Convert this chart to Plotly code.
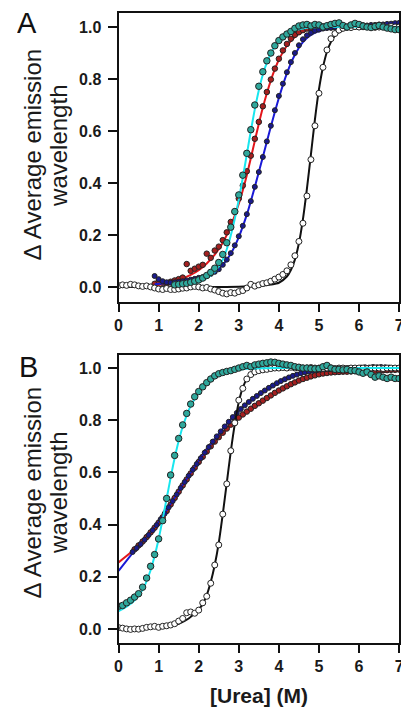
import plotly.graph_objects as go

# ---------------- Panel A data ----------------
A_white_x = [0.0, 0.1, 0.2, 0.3, 0.4, 0.5, 0.6, 0.7, 0.8, 0.9,
             1.0, 1.1, 1.2, 1.3, 1.4, 1.5, 1.6, 1.7, 1.8, 1.9,
             2.0, 2.1, 2.2, 2.3, 2.4, 2.5, 2.6, 2.7, 2.8, 2.9,
             3.0, 3.1, 3.2, 3.3, 3.4, 3.5, 3.6, 3.7, 3.8, 3.9,
             4.0, 4.1, 4.2, 4.3, 4.4, 4.5, 4.6, 4.7, 4.8, 4.9,
             5.0, 5.1, 5.2, 5.3, 5.4, 5.5, 5.6, 5.7, 5.8, 5.9,
             6.0, 6.1, 6.2, 6.3, 6.4, 6.5, 6.6, 6.7, 6.8, 6.9, 7.0]
A_white_y = [0.005, 0.008, 0.006, 0.01, 0.008, 0.004, 0.002, 0.004, 0.0, -0.004,
             -0.008, -0.01, -0.006, -0.01, -0.01, -0.008, -0.005, -0.004, 0.0, 0.002,
             0.0, -0.004, -0.002, -0.008, -0.012, -0.018, -0.024, -0.027, -0.022, -0.024,
             -0.018, -0.014, -0.004, 0.01, 0.003, 0.008, 0.013, 0.016, 0.022, 0.03,
             0.038, 0.048, 0.062, 0.085, 0.12, 0.175, 0.245, 0.35, 0.49, 0.62,
             0.745, 0.845, 0.912, 0.955, 0.975, 0.988, 0.995, 1.0, 0.998, 1.002,
             1.0, 1.005, 1.002, 1.0, 1.005, 1.0, 1.004, 0.998, 1.002, 1.0, 1.0]
A_black_fit_x = [0, 1, 2, 3, 3.5, 3.8, 4.0, 4.2, 4.3, 4.4, 4.5, 4.6, 4.7, 4.8, 4.9,
                 5.0, 5.1, 5.2, 5.3, 5.4, 5.5, 5.7, 6.0, 7.0]
A_black_fit_y = [0, 0, 0, 0.001, 0.004, 0.009, 0.016, 0.04, 0.065, 0.105, 0.168, 0.26,
                 0.378, 0.51, 0.645, 0.76, 0.845, 0.905, 0.943, 0.967, 0.98, 0.993, 0.998, 1.0]

A_teal_x = [1.4, 1.5, 1.6, 1.7, 1.8, 1.9,
            2.0, 2.1, 2.2, 2.3, 2.4, 2.5, 2.6, 2.7, 2.8, 2.9,
            3.0, 3.1, 3.2, 3.3, 3.4, 3.5, 3.6, 3.7, 3.8, 3.9,
            4.0, 4.1, 4.2, 4.3, 4.4, 4.5, 4.6, 4.7, 4.8, 4.9,
            5.0, 5.1, 5.2, 5.3, 5.4, 5.5, 5.6, 5.7, 5.8, 5.9,
            6.0, 6.1, 6.2, 6.3, 6.4, 6.5, 6.6, 6.7, 6.8, 6.9, 7.0]
A_teal_y = [0.008, 0.01, 0.012, 0.014, 0.018, 0.022,
            0.027, 0.034, 0.044, 0.056, 0.072, 0.094, 0.125, 0.17, 0.23, 0.29,
            0.354, 0.43, 0.514, 0.605, 0.7, 0.772, 0.828, 0.87, 0.9, 0.928,
            0.948, 0.962, 0.973, 0.983, 0.995, 1.004, 1.008, 1.01, 1.004, 1.01,
            1.008, 1.0, 1.005, 1.01, 1.014, 1.016, 1.006, 1.0, 1.008, 1.014,
            1.01, 1.004, 1.0, 0.998, 1.002, 1.006, 1.0, 0.996, 0.993, 0.99, 0.99]
A_cyan_fit_x = [1.35, 1.6, 1.8, 2.0, 2.2, 2.4, 2.6, 2.7, 2.8, 2.9, 3.0, 3.1, 3.2, 3.3,
                3.4, 3.5, 3.6, 3.7, 3.8, 3.9, 4.0, 4.2, 4.4, 4.7, 5.0, 7.0]
A_cyan_fit_y = [0.004, 0.008, 0.012, 0.02, 0.034, 0.058, 0.105, 0.145, 0.198, 0.262, 0.336,
                0.42, 0.51, 0.6, 0.684, 0.757, 0.817, 0.863, 0.898, 0.926, 0.946, 0.972,
                0.987, 0.997, 1.0, 1.0]

A_red_x = [0.9,
           1.0, 1.1, 1.2, 1.3, 1.4, 1.5, 1.6, 1.7, 1.8, 1.9,
           2.0, 2.1, 2.2, 2.3, 2.4, 2.5, 2.6, 2.7, 2.8, 2.9,
           3.0, 3.1, 3.2, 3.3, 3.4, 3.5, 3.6, 3.7, 3.8, 3.9,
           4.0, 4.1, 4.2, 4.3, 4.4, 4.5, 4.6, 4.7, 4.8, 4.9,
           5.0, 5.1, 5.2, 5.3, 5.4, 5.5, 5.6, 5.7, 5.8, 5.9,
           6.0, 6.1, 6.2, 6.3, 6.4, 6.5, 6.6, 6.7, 6.8, 6.9, 7.0]
A_red_y = [0.012,
           0.022, 0.016, 0.012, 0.02, 0.025, 0.03, 0.036, 0.088, 0.062, 0.07,
           0.078, 0.085, 0.128, 0.112, 0.14, 0.155, 0.18, 0.21, 0.25, 0.29,
           0.34, 0.39, 0.445, 0.505, 0.57, 0.635, 0.695, 0.75, 0.798, 0.84,
           0.878, 0.91, 0.935, 0.955, 0.97, 0.98, 0.988, 0.994, 0.997, 1.0,
           1.0, 1.002, 1.0, 0.998, 1.0, 1.003, 1.0, 0.998, 1.0, 1.002,
           1.0, 1.0, 1.003, 1.0, 0.998, 1.0, 1.002, 1.0, 1.0, 0.998, 1.0]
A_red_fit_x = [0.9, 1.2, 1.5, 1.8, 2.0, 2.2, 2.4, 2.6, 2.8, 3.0, 3.1, 3.2, 3.3, 3.4, 3.5,
               3.6, 3.7, 3.8, 3.9, 4.0, 4.2, 4.4, 4.6, 4.8, 5.0, 7.0]
A_red_fit_y = [0.005, 0.013, 0.026, 0.046, 0.064, 0.09, 0.124, 0.17, 0.235, 0.32, 0.372,
               0.43, 0.495, 0.562, 0.628, 0.69, 0.745, 0.795, 0.838, 0.874, 0.928, 0.962,
               0.982, 0.993, 0.998, 1.0]

A_blue_x = A_red_x
A_blue_y = [0.042,
            0.03, 0.022, 0.018, 0.016, 0.018, 0.02, 0.022, 0.025, 0.028, 0.031,
            0.035, 0.038, 0.043, 0.05, 0.058, 0.068, 0.085, 0.105, 0.13, 0.16,
            0.195, 0.235, 0.28, 0.33, 0.385, 0.442, 0.5, 0.56, 0.62, 0.68,
            0.735, 0.782, 0.826, 0.865, 0.9, 0.93, 0.953, 0.968, 0.978, 0.986,
            0.99, 0.994, 0.996, 0.998, 1.0, 1.0, 1.002, 1.0, 1.003, 1.004,
            1.005, 1.006, 1.006, 1.008, 1.008, 1.01, 1.01, 1.012, 1.013, 1.015, 1.016]
A_blue_fit_x = [0.9, 1.2, 1.5, 1.8, 2.0, 2.2, 2.4, 2.6, 2.8, 3.0, 3.2, 3.4, 3.6, 3.8, 4.0,
                4.2, 4.4, 4.6, 4.8, 5.0, 5.3, 6.0, 7.0]
A_blue_fit_y = [0.01, 0.015, 0.02, 0.027, 0.033, 0.043, 0.058, 0.085, 0.128, 0.192, 0.278,
                0.385, 0.5, 0.617, 0.727, 0.822, 0.893, 0.942, 0.97, 0.985, 0.995, 1.002, 1.008]

# ---------------- Panel B data ----------------
B_white_x = A_white_x
B_white_y = [0.005, 0.003, 0.0, -0.002, 0.0, -0.001, 0.002, 0.006, 0.008, 0.01,
             0.006, 0.01, 0.012, 0.015, 0.02, 0.03, 0.04, 0.062, 0.065, 0.06,
             0.072, 0.1, 0.125, 0.175, 0.245, 0.322, 0.44, 0.556, 0.683, 0.79,
             0.877, 0.922, 0.958, 0.975, 0.985, 0.99, 0.993, 0.995, 0.998, 1.0,
             1.0, 1.002, 1.0, 1.003, 1.0, 1.002, 1.0, 1.0, 1.002, 1.0,
             1.0, 0.998, 1.0, 1.0, 0.998, 1.0, 1.0, 0.998, 1.0, 1.0,
             1.0, 1.0, 0.998, 1.0, 1.0, 1.0, 0.998, 1.0, 1.0, 1.0, 1.0]
B_black_fit_x = [0, 0.5, 1.0, 1.25, 1.5, 1.75, 2.0, 2.1, 2.2, 2.3, 2.4, 2.5, 2.6, 2.7,
                 2.8, 2.9, 3.0, 3.1, 3.2, 3.3, 3.4, 3.6, 4.0, 7.0]
B_black_fit_y = [0.0, 0.001, 0.005, 0.01, 0.02, 0.04, 0.075, 0.095, 0.13, 0.18, 0.245,
                 0.33, 0.44, 0.56, 0.68, 0.785, 0.87, 0.925, 0.958, 0.976, 0.986, 0.995,
                 1.0, 1.0]

B_teal_x = A_white_x
B_teal_y = [0.087, 0.09, 0.1, 0.11, 0.122, 0.135, 0.16, 0.195, 0.24, 0.285,
            0.345, 0.415, 0.5, 0.59, 0.665, 0.73, 0.782, 0.826, 0.862, 0.89,
            0.91, 0.928, 0.944, 0.958, 0.97, 0.978, 0.983, 0.987, 0.99, 0.995,
            1.0, 1.005, 1.01, 1.005, 1.012, 1.015, 1.018, 1.02, 1.023, 1.022,
            1.018, 1.015, 1.012, 1.01, 1.005, 1.003, 1.0, 1.0, 0.998, 0.997,
            0.998, 1.005, 1.01, 1.0, 0.995, 0.995, 0.993, 0.995, 0.99, 0.99,
            0.985, 0.98, 0.985, 0.975, 0.965, 0.97, 0.965, 0.96, 0.965, 0.96, 0.96]
B_cyan_fit_x = [0, 0.2, 0.4, 0.6, 0.8, 0.9, 1.0, 1.1, 1.2, 1.3, 1.4, 1.5, 1.6, 1.8, 2.0,
                2.2, 2.5, 2.8, 3.2, 4.0, 7.0]
B_cyan_fit_y = [0.068, 0.085, 0.11, 0.15, 0.225, 0.28, 0.345, 0.42, 0.5, 0.58, 0.655,
                0.72, 0.775, 0.855, 0.905, 0.94, 0.972, 0.988, 0.997, 1.0, 1.0]

B_red_x = [0.4, 0.5, 0.6, 0.7, 0.8, 0.9,
           1.0, 1.1, 1.2, 1.3, 1.4, 1.5, 1.6, 1.7, 1.8, 1.9,
           2.0, 2.1, 2.2, 2.3, 2.4, 2.5, 2.6, 2.7, 2.8, 2.9,
           3.0, 3.1, 3.2, 3.3, 3.4, 3.5, 3.6, 3.7, 3.8, 3.9,
           4.0, 4.1, 4.2, 4.3, 4.4, 4.5, 4.6, 4.7, 4.8, 4.9,
           5.0, 5.1, 5.2, 5.3, 5.4, 5.5, 5.6, 5.7, 5.8, 5.9,
           6.0, 6.1, 6.2, 6.3, 6.4, 6.5, 6.6, 6.7, 6.8, 6.9, 7.0]
B_red_y = [0.305, 0.32, 0.335, 0.352, 0.37, 0.388,
           0.407, 0.428, 0.452, 0.477, 0.502, 0.526, 0.55, 0.573, 0.596, 0.618,
           0.64, 0.66, 0.68, 0.7, 0.718, 0.735, 0.752, 0.768, 0.783, 0.797,
           0.81, 0.822, 0.833, 0.844, 0.855, 0.865, 0.875, 0.885, 0.895, 0.905,
           0.914, 0.922, 0.93, 0.938, 0.945, 0.952, 0.958, 0.963, 0.968, 0.972,
           0.976, 0.979, 0.981, 0.983, 0.984, 0.985, 0.986, 0.986, 0.987, 0.988,
           0.988, 0.989, 0.99, 0.99, 0.99, 0.991, 0.992, 0.992, 0.993, 0.993, 0.994]
B_red_fit_x = [0, 0.4, 0.8, 1.2, 1.6, 2.0, 2.4, 2.8, 3.2, 3.6, 4.0, 4.5, 5.0, 5.5, 6.0, 7.0]
B_red_fit_y = [0.255, 0.305, 0.368, 0.45, 0.548, 0.638, 0.716, 0.782, 0.833, 0.875,
               0.913, 0.951, 0.975, 0.985, 0.989, 0.994]

B_blue_x = [0.35, 0.45, 0.55, 0.65, 0.75, 0.85, 0.95,
            1.05, 1.15, 1.25, 1.35, 1.45, 1.55, 1.65, 1.75, 1.85, 1.95,
            2.05, 2.15, 2.25, 2.35, 2.45, 2.55, 2.65, 2.75, 2.85, 2.95,
            3.05, 3.15, 3.25, 3.35, 3.45, 3.55, 3.65, 3.75, 3.85, 3.95,
            4.05, 4.15, 4.25, 4.35, 4.45, 4.55, 4.65, 4.75, 4.85, 4.95,
            5.05, 5.15, 5.25, 5.35, 5.45, 5.55, 5.65, 5.75, 5.85, 5.95,
            6.05, 6.15, 6.25, 6.35, 6.45, 6.55, 6.65, 6.75, 6.85, 6.95]
B_blue_y = [0.295, 0.31, 0.325, 0.342, 0.36, 0.378, 0.398,
            0.42, 0.442, 0.466, 0.49, 0.515, 0.54, 0.563, 0.587, 0.61, 0.632,
            0.654, 0.676, 0.697, 0.718, 0.738, 0.757, 0.776, 0.794, 0.812, 0.828,
            0.843, 0.857, 0.87, 0.882, 0.893, 0.904, 0.914, 0.924, 0.933, 0.942,
            0.95, 0.957, 0.964, 0.97, 0.975, 0.98, 0.984, 0.987, 0.99, 0.992,
            0.994, 0.995, 0.996, 0.997, 0.998, 0.998, 0.999, 1.0, 1.0, 1.0,
            1.002, 1.003, 1.002, 1.004, 1.003, 1.004, 1.003, 1.002, 1.0, 1.0]
B_blue_fit_x = [0, 0.4, 0.8, 1.2, 1.6, 2.0, 2.4, 2.8, 3.2, 3.6, 4.0, 4.5, 5.0, 5.5, 6.0, 7.0]
B_blue_fit_y = [0.222, 0.3, 0.37, 0.455, 0.552, 0.644, 0.728, 0.803, 0.864, 0.909,
                0.946, 0.976, 0.993, 0.998, 1.0, 1.002]

x_ticks = [0, 1, 2, 3, 4, 5, 6, 7]
y_ticks = [0.0, 0.2, 0.4, 0.6, 0.8, 1.0]

# ---------------- styles ----------------
# the page body has an 8px margin, so the figure is made 8px smaller and
# every page-pixel position below is shifted by that offset
OFF = 8
W, H = 409 - OFF, 707 - OFF
RED_LINE, RED_FILL = "#e3161b", "#a51f1f"
BLUE_LINE, BLUE_FILL = "#1a1ad6", "#1a1a8c"
CYAN_LINE, TEAL_FILL = "#19e6ee", "#2fa89c"
BLACK = "#111111"
EDGE = "#222222"

fig = go.Figure()


def add_series(xs, ys, fx, fy, line_color, fill, size, xa, ya):
    fig.add_trace(go.Scatter(x=fx, y=fy, mode="lines", xaxis=xa, yaxis=ya,
                             line=dict(color=line_color, width=2, shape="spline", smoothing=0.7),
                             hoverinfo="skip", showlegend=False))
    fig.add_trace(go.Scatter(x=xs, y=ys, mode="markers", xaxis=xa, yaxis=ya,
                             marker=dict(symbol="circle", size=size, color=fill,
                                         line=dict(color=EDGE, width=1)),
                             showlegend=False))


# Panel A
add_series(A_red_x, A_red_y, A_red_fit_x, A_red_fit_y, RED_LINE, RED_FILL, 5.5, "x", "y")
add_series(A_blue_x, A_blue_y, A_blue_fit_x, A_blue_fit_y, BLUE_LINE, BLUE_FILL, 5, "x", "y")
add_series(A_white_x, A_white_y, A_black_fit_x, A_black_fit_y, BLACK, "white", 6, "x", "y")
add_series(A_teal_x, A_teal_y, A_cyan_fit_x, A_cyan_fit_y, CYAN_LINE, TEAL_FILL, 6.5, "x", "y")
# Panel B
add_series(B_red_x, B_red_y, B_red_fit_x, B_red_fit_y, RED_LINE, RED_FILL, 5.5, "x2", "y2")
add_series(B_blue_x, B_blue_y, B_blue_fit_x, B_blue_fit_y, BLUE_LINE, BLUE_FILL, 5, "x2", "y2")
add_series(B_white_x, B_white_y, B_black_fit_x, B_black_fit_y, BLACK, "white", 6, "x2", "y2")
add_series(B_teal_x, B_teal_y, B_cyan_fit_x, B_cyan_fit_y, CYAN_LINE, TEAL_FILL, 6.5, "x2", "y2")

FONT = "Liberation Sans, Arial, Helvetica, sans-serif"
tickfont = dict(family=FONT, size=16, color="#1a1a1a", weight="bold")


def px_x(p):
    return (p - OFF) / W


def px_y(p):
    return 1 - (p - OFF) / H


common_x = dict(range=[0, 7], tickvals=x_ticks, ticks="outside", ticklen=8, tickwidth=2,
                tickcolor="#111", showline=True, linewidth=2, linecolor="#111", mirror=True,
                showgrid=False, zeroline=False, tickfont=tickfont)
common_y = dict(tickvals=y_ticks, tickformat=".1f", ticks="outside", ticklen=9, tickwidth=2,
                tickcolor="#111", showline=True, linewidth=2, linecolor="#111", mirror=True,
                showgrid=False, zeroline=False, tickfont=tickfont, ticklabelstandoff=3)

fig.update_layout(
    width=W, height=H, margin=dict(l=0, r=0, t=0, b=0),
    paper_bgcolor="white", plot_bgcolor="white",
    xaxis=dict(domain=[px_x(117), px_x(404)], anchor="y", **common_x),
    yaxis=dict(domain=[px_y(302), px_y(13)], anchor="x", range=[-0.058, 1.054], **common_y),
    xaxis2=dict(domain=[px_x(117), px_x(404)], anchor="y2", **common_x),
    yaxis2=dict(domain=[px_y(643), px_y(355)], anchor="x2", range=[-0.054, 1.05], **common_y),
)

title_font = dict(family=FONT, size=24, color="#1a1a1a")
ann = []
for cy1, cy2 in [(155, 146), (493, 493)]:
    ann.append(dict(text="\u0394 Average emission", x=px_x(28), y=px_y(cy1), xref="paper",
                    yref="paper", textangle=-90, showarrow=False, xanchor="center",
                    yanchor="middle", font=title_font))
    ann.append(dict(text="wavelength", x=px_x(55), y=px_y(cy2), xref="paper", yref="paper",
                    textangle=-90, showarrow=False, xanchor="center", yanchor="middle",
                    font=title_font))
ann.append(dict(text="A", x=px_x(23), y=px_y(23), xref="paper", yref="paper", showarrow=False,
                xanchor="center", yanchor="middle", height=28, valign="middle",
                font=dict(family=FONT, size=29, color="#111")))
ann.append(dict(text="B", x=px_x(25), y=px_y(367), xref="paper", yref="paper", showarrow=False,
                xanchor="center", yanchor="middle", height=28, valign="middle",
                font=dict(family=FONT, size=29, color="#111")))
ann.append(dict(text="[Urea] (M)", x=px_x(261), y=px_y(695), xref="paper", yref="paper",
                showarrow=False, xanchor="center", yanchor="middle",
                font=dict(family=FONT, size=21, color="#1a1a1a", weight="bold")))
fig.update_layout(annotations=ann)

fig.write_html("out.html")
